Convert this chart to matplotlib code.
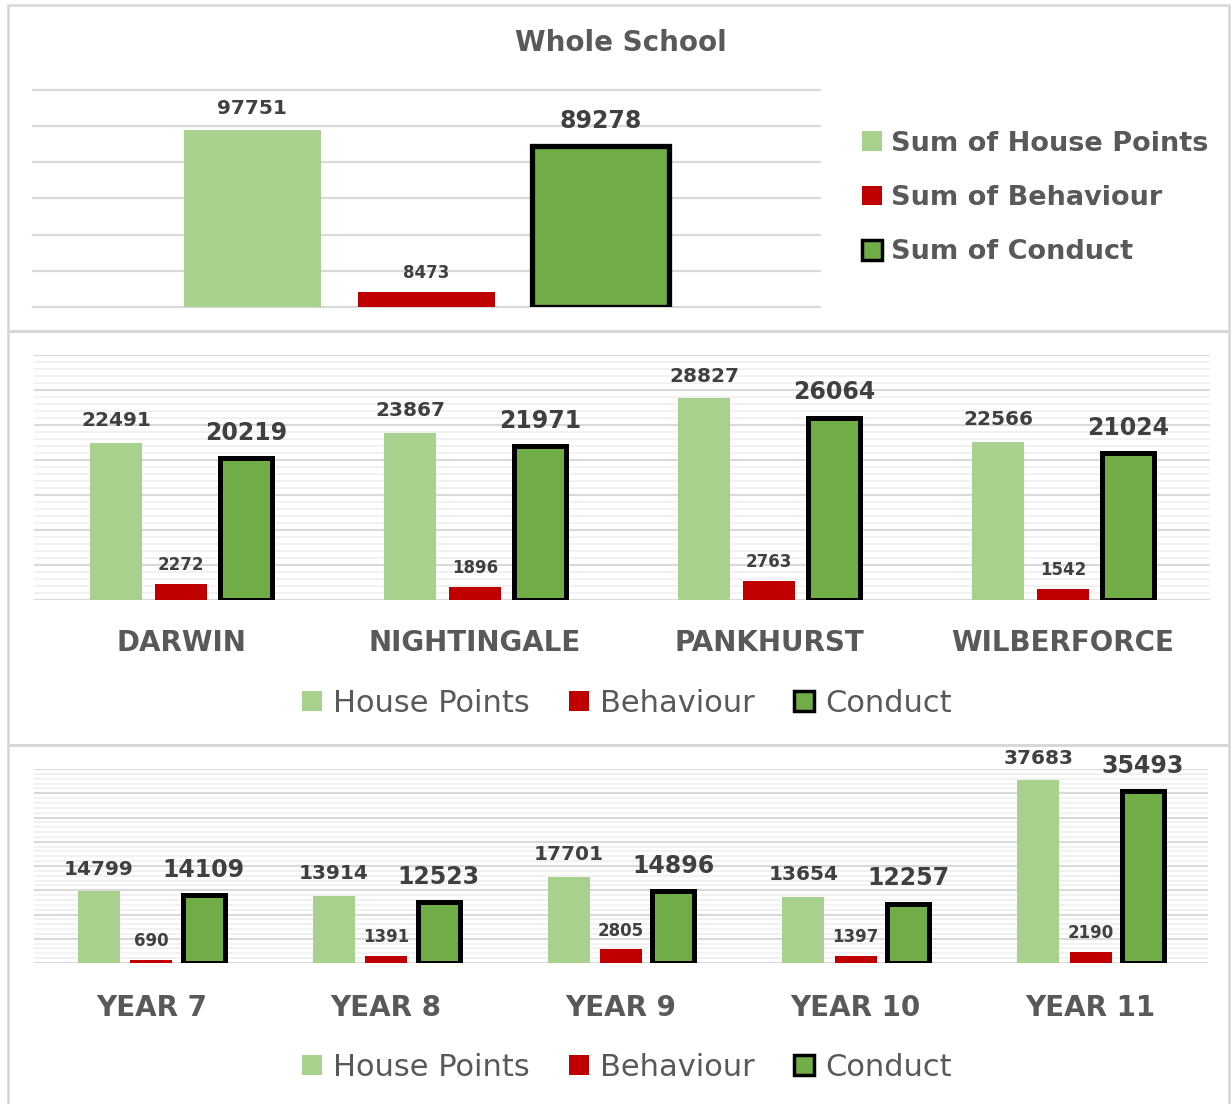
import matplotlib
matplotlib.use("Agg")
import matplotlib.pyplot as plt
from matplotlib.patches import Patch, Rectangle
from matplotlib.ticker import MultipleLocator
import numpy as np

# ---------------- data ----------------
series_names = ["House Points", "Behaviour", "Conduct"]
whole_labels = ["Sum of House Points", "Sum of Behaviour", "Sum of Conduct"]
whole_values = [97751, 8473, 89278]

houses = ["DARWIN", "NIGHTINGALE", "PANKHURST", "WILBERFORCE"]
house_points = [22491, 23867, 28827, 22566]
house_behaviour = [2272, 1896, 2763, 1542]
house_conduct = [20219, 21971, 26064, 21024]

years = ["YEAR 7", "YEAR 8", "YEAR 9", "YEAR 10", "YEAR 11"]
year_points = [14799, 13914, 17701, 13654, 37683]
year_behaviour = [690, 1391, 2805, 1397, 2190]
year_conduct = [14109, 12523, 14896, 12257, 35493]

# ---------------- style ----------------
C_HP = "#a9d18e"
C_BEH = "#c00000"
C_CON = "#70ad47"
TXT = "#595959"
VAL = "#404040"
GRID = "#d9d9d9"
GRID_MINOR = "#ededed"
plt.rcParams["font.family"] = ["DejaVu Sans"]

W, H = 1231, 1104
fig = plt.figure(figsize=(W / 100, H / 100), dpi=100)
fig.patch.set_facecolor("white")


def px_axes(x0, y0, x1, y1):
    return fig.add_axes([x0 / W, 1 - y1 / H, (x1 - x0) / W, (y1 - y0) / H])


def px_rect(x0, y0, x1, y1):
    fig.patches.append(Rectangle((x0 / W, 1 - y1 / H), (x1 - x0) / W, (y1 - y0) / H,
                                 transform=fig.transFigure, fill=False,
                                 edgecolor="#d6d6d6", lw=1.8, zorder=0))


def clean(ax):
    for s in ax.spines.values():
        s.set_visible(False)
    ax.tick_params(axis="y", which="both", left=False, labelleft=False)
    ax.set_axisbelow(True)


# panel frames
px_rect(8, 5, 1229, 331)
px_rect(8, 331, 1229, 745)
px_rect(8, 745, 1229, 1110)

# ---------------- top panel: whole school ----------------
ax1 = px_axes(33, 90, 820, 307)
clean(ax1)
x = np.arange(3)
colors = [C_HP, C_BEH, C_CON]
edges = ["none", "none", "black"]
lws = [0, 0, 3.8]
fs = [14.5, 12, 17]
offs = [12, 10, 13]
for i in range(3):
    ax1.bar(x[i], whole_values[i], width=0.787, color=colors[i],
            edgecolor=edges[i], linewidth=lws[i], zorder=3)
    ax1.annotate(str(whole_values[i]), (x[i], whole_values[i]), xytext=(0, offs[i]),
                 textcoords="offset points", ha="center", va="baseline",
                 fontsize=fs[i], fontweight="bold", color=VAL)
ax1.set_xlim(-1.26, 3.26)
ax1.set_ylim(0, 120000)
ax1.yaxis.set_major_locator(MultipleLocator(20000))
ax1.grid(axis="y", which="major", color=GRID, lw=1.6, clip_on=False)
ax1.set_xticks([])
fig.text(621 / W, 1 - 43 / H, "Whole School", ha="center", va="center",
         fontsize=20, fontweight="bold", color=TXT)
h1 = [Patch(facecolor=C_HP, edgecolor="none"),
      Patch(facecolor=C_BEH, edgecolor="none"),
      Patch(facecolor=C_CON, edgecolor="black", linewidth=2.5)]
fig.legend(h1, whole_labels, loc="center left",
           bbox_to_anchor=(848 / W, 1 - 198 / H), frameon=False,
           prop={"size": 19.5, "weight": "bold"}, labelcolor=TXT,
           handlelength=0.75, handleheight=0.75, handletextpad=0.35,
           labelspacing=1.05, borderpad=0)


def grouped(ax, cats, hp, beh, con, off, width, ymax, major, pad):
    clean(ax)
    xs = np.arange(len(cats))
    ax.bar(xs - off, hp, width=width, color=C_HP, zorder=3)
    ax.bar(xs, beh, width=width, color=C_BEH, zorder=3)
    ax.bar(xs + off, con, width=width, color=C_CON, edgecolor="black",
           linewidth=3.6, zorder=3)
    for xi, v in zip(xs - off, hp):
        ax.annotate(str(v), (xi, v), xytext=(0, 12), textcoords="offset points",
                    ha="center", va="baseline", fontsize=14.5, fontweight="bold", color=VAL)
    for xi, v in zip(xs, beh):
        ax.annotate(str(v), (xi, v), xytext=(0, 10), textcoords="offset points",
                    ha="center", va="baseline", fontsize=12, fontweight="bold", color=VAL)
    for xi, v in zip(xs + off, con):
        ax.annotate(str(v), (xi, v), xytext=(0, 13), textcoords="offset points",
                    ha="center", va="baseline", fontsize=17, fontweight="bold", color=VAL)
    ax.set_xlim(-0.5, len(cats) - 0.5)
    ax.set_ylim(0, ymax)
    ax.yaxis.set_major_locator(MultipleLocator(major))
    ax.yaxis.set_minor_locator(MultipleLocator(1000))
    ax.grid(axis="y", which="major", color=GRID, lw=1.5)
    ax.grid(axis="y", which="minor", color=GRID_MINOR, lw=1.1)
    ax.set_xticks(xs)
    ax.set_xticklabels(cats, fontsize=20, fontweight="bold", color=TXT)
    ax.tick_params(axis="x", length=0, pad=pad)


def small_legend(ycenter):
    hs = [Patch(facecolor=C_HP, edgecolor="none"),
          Patch(facecolor=C_BEH, edgecolor="none"),
          Patch(facecolor=C_CON, edgecolor="black", linewidth=2.5)]
    fig.legend(hs, series_names, loc="center", ncol=3,
               bbox_to_anchor=(627 / W, 1 - ycenter / H), frameon=False,
               prop={"size": 22}, labelcolor=TXT,
               handlelength=0.65, handleheight=0.65, handletextpad=0.35,
               columnspacing=1.3, borderpad=0)


# ---------------- middle panel: houses ----------------
ax2 = px_axes(34, 355, 1210, 600)
grouped(ax2, houses, house_points, house_behaviour, house_conduct,
        0.221, 0.177, 35000, 5000, 21)
small_legend(703)

# ---------------- bottom panel: years ----------------
ax3 = px_axes(34, 769, 1208, 963)
grouped(ax3, years, year_points, year_behaviour, year_conduct,
        0.223, 0.179, 40000, 5000, 22)
small_legend(1067)

fig.savefig("out.png", dpi=100, facecolor="white")
